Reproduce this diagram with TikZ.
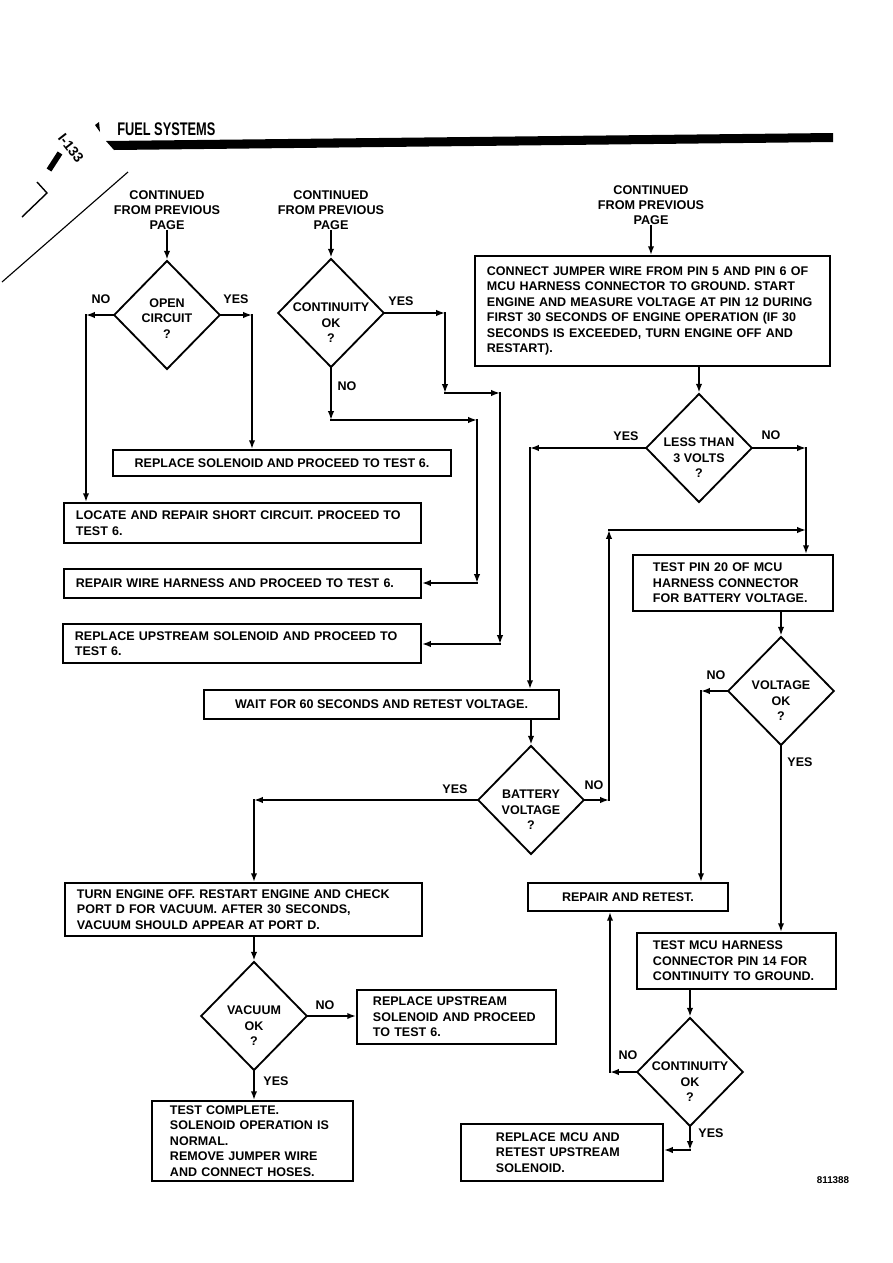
\documentclass[tikz,border=0pt]{standalone}
\usepackage{fontspec}
\setmainfont{Liberation Sans}
\usetikzlibrary{arrows.meta, positioning, shapes.geometric}

\begin{document}
\begin{tikzpicture}[
    x=0.025cm, y=-0.025cm,
    txt/.style={font=\fontsize{8.9}{11}\selectfont\bfseries},
    box/.style={draw, line width=1.3pt, txt, align=left, inner xsep=0.3cm, inner ysep=0pt},
    cbox/.style={draw, line width=1.3pt, txt, align=center, inner sep=0pt},
    decision/.style={draw, diamond, line width=1.3pt, minimum width=2.66cm,
                     minimum height=2.72cm, inner sep=0pt},
    ques/.style={label={[txt, align=center, yshift=-0.25cm]center:{#1}}},
    quesup/.style={label={[txt, align=center, yshift=-0.08cm]center:{#1}}},
    lbl/.style={txt, inner sep=0pt},
    cont/.style={font=\fontsize{9}{10.7}\selectfont\bfseries, align=center, inner sep=1pt},
    arrow/.style={-{Latex[length=2.2mm, width=1.6mm]}, line width=1.3pt, line cap=rect},
]
    \useasboundingbox (0,0) rectangle (893,1263);

    % page header
    \node[anchor=west, inner sep=0pt, font=\fontsize{13}{13}\selectfont\bfseries]
         (hdr) at (117,129) {\scalebox{0.7}[1]{FUEL SYSTEMS}};
    \fill (106,141) -- (833,133) -- (833,142) -- (114,150) -- cycle;
    \fill (95,125) -- (99,122) -- (100,132) -- cycle;
    \node[rotate=-52, inner sep=0pt, font=\fontsize{10}{10}\selectfont\bfseries]
         (pgno) at (71,148) {I-133};
    \draw[line width=4pt] (49,170) -- (60,153);
    \draw[line width=1pt] (37,182) -- (47,193) -- (22,217);
    \draw[line width=0.8pt] (128,172) -- (2,282);

    % entry points
    \node[cont] (prev1) at (167,210) {CONTINUED\\FROM PREVIOUS\\PAGE};
    \node[cont] (prev2) at (331,210) {CONTINUED\\FROM PREVIOUS\\PAGE};
    \node[cont] (prev3) at (651,205) {CONTINUED\\FROM PREVIOUS\\PAGE};

    % decisions
    \node[decision, quesup={OPEN\\CIRCUIT\\?}] (open) at (167,315) {};
    \node[decision, ques={CONTINUITY\\OK\\?}] (cont) at (331,313) {};
    \node[decision, ques={LESS THAN\\3 VOLTS\\?}] (less) at (699,448) {};
    \node[decision, ques={VOLTAGE\\OK\\?}] (volt) at (781,691) {};
    \node[decision, ques={BATTERY\\VOLTAGE\\?}] (batt) at (531,800) {};
    \node[decision, ques={VACUUM\\OK\\?}] (vacuum) at (254,1016) {};
    \node[decision, ques={CONTINUITY\\OK\\?}] (cont2) at (690,1072) {};

    % action boxes
    \node[cbox, minimum width=8.45cm, minimum height=0.65cm] (repsol) at (282,463)
         {REPLACE SOLENOID AND PROCEED TO TEST 6.};
    \node[box, text width=8.325cm, minimum height=1cm] (locate) at (242.5,523)
         {LOCATE AND REPAIR SHORT CIRCUIT. PROCEED TO\\TEST 6.};
    \node[box, text width=8.325cm, minimum height=0.725cm] (repwire) at (242.5,583.5)
         {REPAIR WIRE HARNESS AND PROCEED TO TEST 6.};
    \node[box, text width=8.35cm, minimum height=0.975cm] (repup1) at (242,643.5)
         {REPLACE UPSTREAM SOLENOID AND PROCEED TO\\TEST 6.};
    \node[box, text width=8.275cm, minimum height=2.75cm] (connect) at (652.5,311)
         {CONNECT JUMPER WIRE FROM PIN 5 AND PIN 6 OF\\
          MCU HARNESS CONNECTOR TO GROUND. START\\
          ENGINE AND MEASURE VOLTAGE AT PIN 12 DURING\\
          FIRST 30 SECONDS OF ENGINE OPERATION (IF 30\\
          SECONDS IS EXCEEDED, TURN ENGINE OFF AND\\
          RESTART).};
    \node[box, inner xsep=0.5cm, text width=4cm, minimum height=1.4cm] (pin20) at (733,583)
         {TEST PIN 20 OF MCU\\HARNESS CONNECTOR\\FOR BATTERY VOLTAGE.};
    \node[cbox, minimum width=8.875cm, minimum height=0.725cm] (wait) at (381.5,704.5)
         {WAIT FOR 60 SECONDS AND RETEST VOLTAGE.};
    \node[box, text width=8.325cm, minimum height=1.325cm] (engoff) at (243.5,909.5)
         {TURN ENGINE OFF. RESTART ENGINE AND CHECK\\
          PORT D FOR VACUUM. AFTER 30 SECONDS,\\
          VACUUM SHOULD APPEAR AT PORT D.};
    \node[box, inner xsep=0.4cm, text width=4.175cm, minimum height=1.35cm] (repup2) at (456.5,1017)
         {REPLACE UPSTREAM\\SOLENOID AND PROCEED\\TO TEST 6.};
    \node[box, inner xsep=0.45cm, text width=4.125cm, minimum height=2cm] (done) at (252.5,1141)
         {TEST COMPLETE.\\SOLENOID OPERATION IS\\NORMAL.\\REMOVE JUMPER WIRE\\AND CONNECT HOSES.};
    \node[cbox, minimum width=5cm, minimum height=0.7cm] (retest) at (628,897)
         {REPAIR AND RETEST.};
    \node[box, inner xsep=0.4cm, text width=4.175cm, minimum height=1.4cm] (mcu14) at (736.5,961)
         {TEST MCU HARNESS\\CONNECTOR PIN 14 FOR\\CONTINUITY TO GROUND.};
    \node[box, inner xsep=0.875cm, text width=3.3cm, minimum height=1.425cm] (repmcu) at (562,1152.5)
         {REPLACE MCU AND\\RETEST UPSTREAM\\SOLENOID.};

    % bends
    \coordinate (oNo) at (86,315);
    \coordinate (oYes) at (252,315);
    \coordinate (cYes1) at (445,313);
    \coordinate (cYes2) at (445,393);
    \coordinate (cYes3) at (500,393);
    \coordinate (cYes4) at (500,644);
    \coordinate (cNo1) at (331,420);
    \coordinate (cNo2) at (477,420);
    \coordinate (cNo3) at (477,583);
    \coordinate (lYes) at (530,448);
    \coordinate (lNo) at (806,448);
    \coordinate (vNo) at (701,691);
    \coordinate (bYes) at (254,800);
    \coordinate (bNo1) at (609,800);
    \coordinate (bNo2) at (609,530);
    \coordinate (bNo3) at (806,530);
    \coordinate (c2No) at (610,1072);
    \coordinate (c2Yes) at (690,1150);

    % connectors
    \draw[arrow] (prev1) -- (open);
    \draw[arrow] (prev2) -- (cont);
    \draw[arrow] (prev3) -- (prev3 |- connect.north);
    \draw[arrow] (open.west) -- (oNo);
    \draw[arrow] (oNo) -- (oNo |- locate.north);
    \draw[arrow] (open.east) -- (oYes);
    \draw[arrow] (oYes) -- (oYes |- repsol.north);
    \draw[arrow] (cont.east) -- (cYes1);
    \foreach \a/\b in {cYes1/cYes2, cYes2/cYes3, cYes3/cYes4, cNo1/cNo2, cNo2/cNo3}
        \draw[arrow] (\a) -- (\b);
    \draw[arrow] (cYes4) -- (cYes4 -| repup1.east);
    \draw[arrow] (cont.south) -- (cNo1);
    \draw[arrow] (cNo3) -- (cNo3 -| repwire.east);
    \draw[arrow] (connect.south -| less) -- (less.north);
    \draw[arrow] (less.west) -- (lYes);
    \draw[arrow] (lYes) -- (lYes |- wait.north);
    \draw[arrow] (less.east) -- (lNo);
    \draw[arrow] (lNo) -- (lNo |- pin20.north);
    \draw[arrow] (pin20.south -| volt) -- (volt.north);
    \draw[arrow] (volt.west) -- (vNo);
    \draw[arrow] (vNo) -- (vNo |- retest.north);
    \draw[arrow] (volt.south) -- (volt.south |- mcu14.north);
    \draw[arrow] (wait.south -| batt) -- (batt.north);
    \draw[arrow] (batt.west) -- (bYes);
    \draw[arrow] (bYes) -- (bYes |- engoff.north);
    \draw[arrow] (batt.east) -- (bNo1);
    \draw[arrow] (bNo1) -- (bNo2);
    \draw[arrow] (bNo2) -- (bNo3);
    \draw[arrow] (engoff.south -| vacuum) -- (vacuum.north);
    \draw[arrow] (vacuum.east) -- (vacuum.east -| repup2.west);
    \draw[arrow] (vacuum.south) -- (vacuum.south |- done.north);
    \draw[arrow] (mcu14.south -| cont2) -- (cont2.north);
    \draw[arrow] (cont2.west) -- (c2No);
    \draw[arrow] (c2No) -- (c2No |- retest.south);
    \draw[arrow] (cont2.south) -- (c2Yes);
    \draw[arrow] (c2Yes) -- (c2Yes -| repmcu.east);

    % yes / no
    \node[lbl] (openNo) at (101,299) {NO};
    \node[lbl] (openYes) at (236,299) {YES};
    \node[lbl] (contYes) at (401,301) {YES};
    \node[lbl] (contNo) at (347,386) {NO};
    \node[lbl] (lessYes) at (626,436) {YES};
    \node[lbl] (lessNo) at (771,435) {NO};
    \node[lbl] (voltNo) at (716,675) {NO};
    \node[lbl] (voltYes) at (800,762) {YES};
    \node[lbl] (battYes) at (455,789) {YES};
    \node[lbl] (battNo) at (594,785) {NO};
    \node[lbl] (vacNo) at (325,1005) {NO};
    \node[lbl] (vacYes) at (276,1081) {YES};
    \node[lbl] (cont2No) at (628,1055) {NO};
    \node[lbl] (cont2Yes) at (711,1133) {YES};

    \node[inner sep=0pt, font=\fontsize{7}{7}\selectfont\bfseries] (fignum) at (833,1180) {811388};
\end{tikzpicture}
\end{document}
